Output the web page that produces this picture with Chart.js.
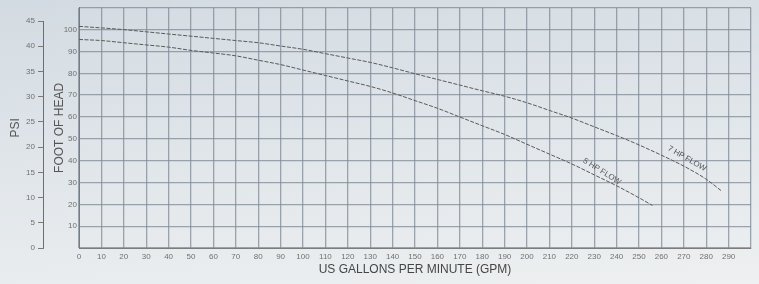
<!DOCTYPE html>
<html>
<head>
<meta charset="utf-8">
<script src="https://cdn.jsdelivr.net/npm/chart.js@4/dist/chart.umd.min.js"></script>
<style>
  html, body { margin:0; padding:0; }
  body { width:759px; height:284px; overflow:hidden;
         background: linear-gradient(175deg, #d3dbe2 0%, #e2e7eb 55%, #eef0f1 100%); }
  #wrap { position:relative; width:759px; height:284px; }
</style>
</head>
<body>
<div id="wrap"><canvas id="c" width="759" height="284"></canvas></div>
<script>
// ---- data ----
const gpm7  = [0, 10, 20, 30, 40, 50, 60, 70, 80, 90, 100, 110, 120, 130, 140, 150, 160, 170, 180, 190, 200, 210, 220, 230, 240, 250, 260, 270, 280, 287];
const head7 = [101.5, 100.8, 100, 99, 98, 97, 96, 95, 94, 92.5, 91, 89, 87, 85, 82.5, 79.8, 77.2, 74.6, 72, 69.5, 66.5, 63, 59.5, 55.5, 51.5, 47.2, 42.5, 37.5, 31.5, 26];
const gpm5  = [0, 10, 20, 30, 40, 50, 60, 70, 80, 90, 100, 110, 120, 130, 140, 150, 160, 170, 180, 190, 200, 210, 220, 230, 240, 250, 256];
const head5 = [95.5, 95, 94, 93, 92, 90.5, 89.3, 88, 86, 84, 81.5, 79, 76.5, 74, 71, 67.5, 64, 60, 56, 52, 47.5, 43, 38.5, 33.5, 28.5, 23, 19.5];
const gpmTicks  = [0,10,20,30,40,50,60,70,80,90,100,110,120,130,140,150,160,170,180,190,200,210,220,230,240,250,260,270,280,290,300];
const headTicks = [0,10,20,30,40,50,60,70,80,90,100,110];
const psiTicks  = [0,5,10,15,20,25,30,35,40,45];
const seriesNames = ['7 HP FLOW', '5 HP FLOW'];
// label anchors in data units [gpm, feet]
const labelAnchors = [[271.4, 40.9], [233.5, 35.0]];

const FT_PER_PSI = 2.31;
const FONT = "'Liberation Sans', Arial, sans-serif";

const toXY = (xs, ys) => xs.map((x, i) => ({x: x, y: ys[i]}));

const curveLabels = {
  id: 'curveLabels',
  afterDatasetsDraw(chart) {
    const {ctx, scales: {x, y}} = chart;
    const angles = [30, 32];
    ctx.save();
    ctx.fillStyle = '#555555';
    ctx.font = "8px " + FONT;
    ctx.textAlign = 'center';
    ctx.textBaseline = 'middle';
    labelAnchors.forEach((a, i) => {
      const px = x.getPixelForValue(a[0]);
      const py = y.getPixelForValue(a[1]);
      ctx.save();
      ctx.translate(px, py);
      ctx.rotate(angles[i] * Math.PI / 180);
      ctx.fillText(seriesNames[i], 0, 0);
      ctx.restore();
    });
    ctx.restore();
  }
};

const psiLine = {
  id: 'psiLine',
  afterDraw(chart) {
    const s = chart.scales.psi;
    const {ctx} = chart;
    ctx.save();
    ctx.strokeStyle = '#6e6e6e';
    ctx.lineWidth = 1;
    const xx = Math.round(s.right) - 0.5;
    ctx.beginPath();
    ctx.moveTo(xx, s.getPixelForValue(45));
    ctx.lineTo(xx, s.getPixelForValue(0));
    ctx.stroke();
    ctx.restore();
  }
};

new Chart(document.getElementById('c'), {
  type: 'line',
  data: {
    datasets: [
      { label: seriesNames[0], data: toXY(gpm7, head7), borderColor: '#5a5a5a', borderWidth: 1,
        borderDash: [4, 1.5], pointRadius: 0, fill: false, cubicInterpolationMode: 'monotone', yAxisID: 'y' },
      { label: seriesNames[1], data: toXY(gpm5, head5), borderColor: '#5a5a5a', borderWidth: 1,
        borderDash: [4, 1.5], pointRadius: 0, fill: false, cubicInterpolationMode: 'monotone', yAxisID: 'y' }
    ]
  },
  options: {
    responsive: false,
    animation: false,
    events: [],
    layout: { padding: { top: 3, right: 8, left: 0, bottom: 0 } },
    plugins: { legend: { display: false }, tooltip: { enabled: false } },
    scales: {
      x: {
        type: 'linear', min: 0, max: 300,
        afterBuildTicks: s => { s.ticks = gpmTicks.map(v => ({value: v})); },
        afterFit: s => { s.height = 36; },
        grid: { color: 'rgba(128,138,148,0.75)', lineWidth: 1.3, drawTicks: false },
        border: { color: '#7c7c7c', width: 1 },
        ticks: { autoSkip: false, maxRotation: 0, padding: 4, color: '#707070',
                 font: { family: FONT, size: 8 },
                 callback: v => (v === 300 ? '' : String(v)) },
        title: { display: true, text: 'US GALLONS PER MINUTE (GPM)', color: '#454545',
                 font: { family: FONT, size: 12 }, padding: { top: 0, bottom: 7 } }
      },
      y: {
        type: 'linear', position: 'left', min: 0, max: 110, weight: 0,
        afterBuildTicks: s => { s.ticks = headTicks.map(v => ({value: v})); },
        afterFit: s => { s.width = 35; },
        grid: { color: 'rgba(128,138,148,0.75)', lineWidth: 1.3, drawTicks: false },
        border: { color: '#7c7c7c', width: 1 },
        ticks: { padding: 2, color: '#707070', font: { family: FONT, size: 8 },
                 callback: v => (v === 0 || v === 110 ? '' : String(v)) },
        title: { display: true, text: 'FOOT OF HEAD', color: '#555',
                 font: { family: FONT, size: 12 }, padding: { top: 8, bottom: 0 } }
      },
      psi: {
        type: 'linear', position: 'left', min: 0, max: 110 / FT_PER_PSI, weight: 1,
        afterBuildTicks: s => { s.ticks = psiTicks.map(v => ({value: v})); },
        afterFit: s => { s.width = 44; },
        grid: { drawOnChartArea: false, drawTicks: true, tickLength: 6, color: '#7a7a7a' },
        border: { display: false },
        ticks: { padding: 3, color: '#707070', font: { family: FONT, size: 8 } },
        title: { display: true, text: 'PSI', color: '#555',
                 font: { family: FONT, size: 12 }, padding: { top: 8, bottom: 0 } }
      }
    }
  },
  plugins: [curveLabels, psiLine]
});
</script>
</body>
</html>
